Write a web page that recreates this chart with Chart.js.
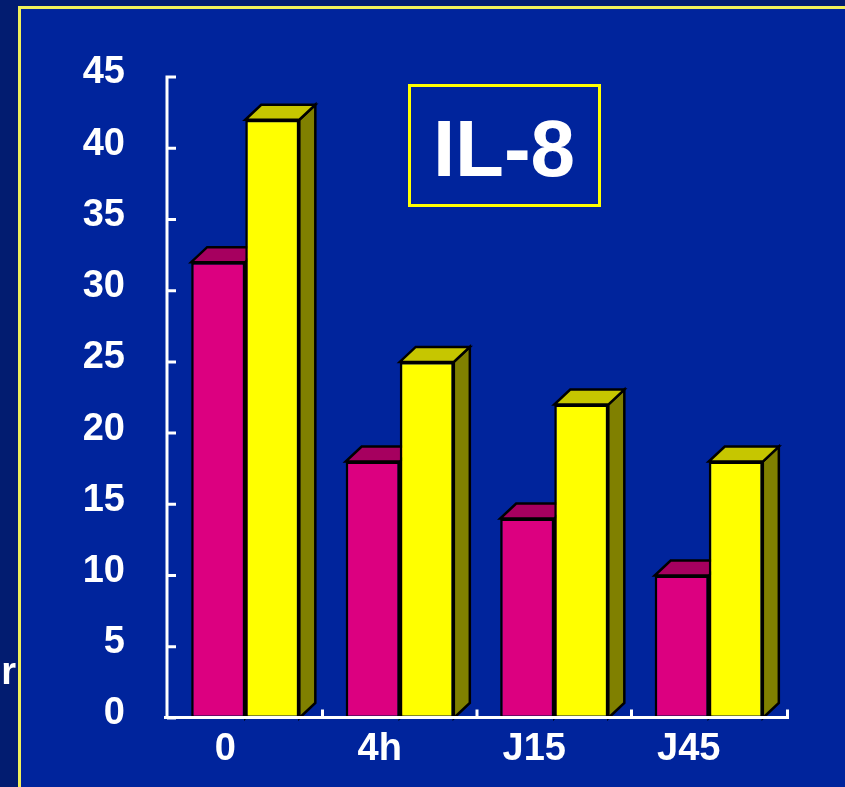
<!DOCTYPE html>
<html>
<head>
<meta charset="utf-8">
<script src="https://cdn.jsdelivr.net/npm/chart.js@4/dist/chart.umd.min.js"></script>
<style>
  html, body { margin: 0; padding: 0; background: #021c70; }
  #wrap { width: 845px; height: 787px; }
</style>
</head>
<body>
<div id="wrap"><canvas id="c" width="845" height="787"></canvas></div>
<script>
// IL-8 levels at each time point, two groups
const categories = ['0', '4h', 'J15', 'J45'];
const groupA = [32, 18, 14, 10];   // magenta bars
const groupB = [42, 25, 22, 18];   // yellow bars
const yMin = 0, yMax = 45, yStep = 5;

const FONT = '"Liberation Sans", Arial, Helvetica, sans-serif';
const DEPTH_X = 16, DEPTH_Y = 15;

const faceColors = [
  { top: '#a6005f', side: '#7a0046' },
  { top: '#c6c600', side: '#808000' }
];

function poly(ctx, pts, fill) {
  ctx.beginPath();
  ctx.moveTo(pts[0][0], pts[0][1]);
  for (let i = 1; i < pts.length; i++) ctx.lineTo(pts[i][0], pts[i][1]);
  ctx.closePath();
  ctx.fillStyle = fill;
  ctx.fill();
  ctx.stroke();
}

// top and side faces give each bar its depth
function drawDepth(chart, dsIndex) {
  const ctx = chart.ctx;
  const meta = chart.getDatasetMeta(dsIndex);
  ctx.save();
  ctx.strokeStyle = '#000';
  ctx.lineWidth = 2.5;
  ctx.lineJoin = 'miter';
  meta.data.forEach(bar => {
    const p = bar.getProps(['x', 'y', 'base', 'width'], true);
    const l = p.x - p.width / 2, r = p.x + p.width / 2;
    const c = faceColors[dsIndex];
    poly(ctx, [[r, p.y], [r + DEPTH_X, p.y - DEPTH_Y], [r + DEPTH_X, p.base - DEPTH_Y], [r, p.base]], c.side);
    poly(ctx, [[l, p.y], [r, p.y], [r + DEPTH_X, p.y - DEPTH_Y], [l + DEPTH_X, p.y - DEPTH_Y]], c.top);
  });
  ctx.restore();
}

const slidePlugin = {
  id: 'slide',
  beforeDraw(chart) {
    const ctx = chart.ctx;
    const W = chart.width, H = chart.height;
    ctx.save();
    ctx.fillStyle = '#021c70';
    ctx.fillRect(0, 0, W, H);
    ctx.fillStyle = '#00249c';
    ctx.fillRect(21, 9, W - 21, H - 9);
    ctx.fillStyle = '#f0f05a';
    ctx.fillRect(18, 6, W - 18, 3);
    ctx.fillRect(18, 6, 3, H - 6);
    // clipped word at the left edge
    ctx.fillStyle = '#ffffff';
    ctx.font = 'bold 38px ' + FONT;
    ctx.textAlign = 'right';
    ctx.textBaseline = 'alphabetic';
    ctx.fillText('r', 16, 684);
    ctx.restore();
  },
  beforeDatasetsDraw(chart) {
    drawDepth(chart, 0);
  },
  afterDatasetsDraw(chart) {
    drawDepth(chart, 1);
  },
  afterDraw(chart) {
    const ctx = chart.ctx;
    const a = chart.chartArea;
    const ys = chart.scales.y, xs = chart.scales.x;
    const axisX = a.left - 1;
    const axisY = ys.getPixelForValue(0) - 0.5;
    ctx.save();
    ctx.strokeStyle = '#ffffff';
    ctx.lineWidth = 3;
    ctx.lineCap = 'butt';
    // value axis with inward ticks
    ctx.beginPath();
    ctx.moveTo(axisX, ys.getPixelForValue(yMax) - 1.5);
    ctx.lineTo(axisX, axisY + 1.5);
    for (let v = yMin; v <= yMax; v += yStep) {
      const py = ys.getPixelForValue(v);
      ctx.moveTo(axisX, py);
      ctx.lineTo(axisX + 9, py);
    }
    ctx.stroke();
    // category axis with upward ticks at the group boundaries
    const endX = a.right + 3;
    ctx.beginPath();
    ctx.moveTo(axisX - 3, axisY);
    ctx.lineTo(endX, axisY);
    for (let i = 1; i < categories.length; i++) {
      const bx = (xs.getPixelForValue(i - 1) + xs.getPixelForValue(i)) / 2;
      ctx.moveTo(bx, axisY);
      ctx.lineTo(bx, axisY - 8);
    }
    ctx.moveTo(endX - 1.5, axisY);
    ctx.lineTo(endX - 1.5, axisY - 8);
    ctx.stroke();

    // boxed title
    ctx.strokeStyle = '#ffff00';
    ctx.lineWidth = 3;
    ctx.strokeRect(409.5, 85.5, 190, 120);
    ctx.fillStyle = '#ffffff';
    ctx.font = 'bold 80px ' + FONT;
    ctx.textAlign = 'center';
    ctx.textBaseline = 'alphabetic';
    ctx.fillText('IL-8', 504, 176);
    ctx.restore();
  }
};

new Chart(document.getElementById('c'), {
  type: 'bar',
  data: {
    labels: categories,
    datasets: [
      {
        data: groupA,
        backgroundColor: '#dc0080',
        borderColor: '#000000',
        borderWidth: 2.5,
        borderSkipped: false,
        categoryPercentage: 0.70,
        barPercentage: 1.0
      },
      {
        data: groupB,
        backgroundColor: '#ffff00',
        borderColor: '#000000',
        borderWidth: 2.5,
        borderSkipped: false,
        categoryPercentage: 0.70,
        barPercentage: 1.0
      }
    ]
  },
  options: {
    responsive: false,
    animation: false,
    events: [],
    layout: { padding: { left: 0, right: 59, top: 77, bottom: 0 } },
    plugins: {
      legend: { display: false },
      tooltip: { enabled: false },
      title: { display: false }
    },
    scales: {
      x: {
        grid: { display: false, drawTicks: false },
        border: { display: false },
        ticks: {
          color: '#ffffff',
          font: { family: FONT, size: 38, weight: 'bold' },
          padding: 9,
          labelOffset: -20,
          maxRotation: 0
        },
        afterFit(s) { s.height = 69; }
      },
      y: {
        min: yMin,
        max: yMax,
        grid: { display: false, drawTicks: false },
        border: { display: false },
        ticks: {
          stepSize: yStep,
          color: '#ffffff',
          font: { family: FONT, size: 38, weight: 'bold' },
          padding: 43,
          labelOffset: -4
        },
        afterFit(s) { s.width = 168; }
      }
    }
  },
  plugins: [slidePlugin]
});
</script>
</body>
</html>
